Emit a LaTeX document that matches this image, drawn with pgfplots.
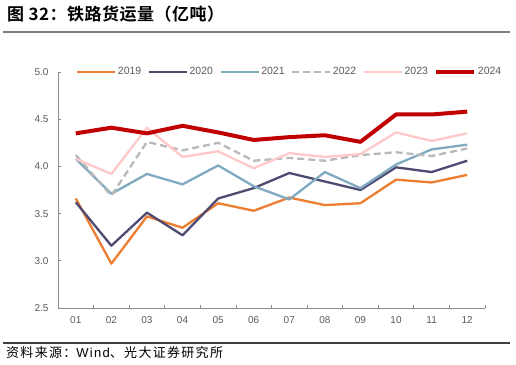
\documentclass[border=0pt]{standalone}
\usepackage{pgfplots}
\pgfplotsset{compat=1.18}
\usepackage{fontspec}
\setmainfont{Liberation Sans}
\newfontfamily\cjk{Noto Sans CJK SC}[BoldFont={Noto Sans CJK SC Bold}]
\newfontfamily\cjksrc{Noto Sans CJK SC}[LetterSpace=10]
\newfontfamily\latsrc{Liberation Sans}[LetterSpace=10]
\newfontfamily\cjktitle{Noto Sans CJK SC Bold}[LetterSpace=3]
\definecolor{c2019}{HTML}{ED7D31}
\definecolor{c2020}{HTML}{4E4B72}
\definecolor{c2021}{HTML}{7FAAC0}
\definecolor{c2022}{HTML}{B8B8B8}
\definecolor{c2023}{HTML}{FFC9C9}
\definecolor{c2024}{HTML}{C00000}
\definecolor{tickgray}{HTML}{595959}
\definecolor{axgray}{HTML}{8C8C8C}
\begin{document}
\begin{tikzpicture}
\useasboundingbox (0,0) rectangle (516pt,-364pt);
\node[anchor=base west, inner sep=0, font=\cjktitle\fontsize{17}{20}\selectfont] at (7pt,-20pt) {图 32：铁路货运量（亿吨）};
\draw[line width=2pt, color=axgray!90!black] (3pt,-32pt) -- (510pt,-32pt);
\draw[line width=1.2pt, color=black!75] (3pt,-343pt) -- (510pt,-343pt);
\node[anchor=base west, inner sep=0, font=\cjksrc\fontsize{13}{15}\selectfont] at (6pt,-357pt) {资料来源：{\latsrc Wind}、光大证券研究所};
\begin{axis}[
  at={(58pt,-308pt)}, anchor=south west,
  scale only axis, width=427pt, height=236pt,
  xmin=0.5, xmax=12.5, ymin=2.5, ymax=5.0,
  axis x line*=bottom, axis y line*=left,
  axis line style={color=axgray, line width=0.8pt},
  xtick={1,...,12},
  xticklabels={01,02,03,04,05,06,07,08,09,10,11,12},
  minor xtick={1.5,2.5,...,12.5},
  major x tick style={draw=none},
  minor tick length=3pt,
  major tick length=3pt,
  tick align=inside,
  tick style={color=axgray, line width=0.8pt},
  ytick={2.5,3.0,...,5.0},
  /pgf/number format/fixed,
  /pgf/number format/fixed zerofill,
  /pgf/number format/precision=1,
  /pgf/number format/assume math mode=true,
  yticklabel shift=6pt,
  xticklabel shift=5pt,
  ticklabel style={font=\fontsize{10}{12}\selectfont, text=tickgray},
  legend style={at={(0.035,1)}, anchor=west, draw=none, fill=none,
    font=\fontsize{10.5}{12}\selectfont, text=tickgray,
    nodes={inner sep=1.5pt},
    /tikz/every even column/.append style={column sep=5pt}},
  legend columns=-1,
  legend image code/.code={\draw[#1] (0pt,0pt) -- (38pt,0pt);},
  every axis plot/.append style={line join=round},
]
\addplot[color=c2019, line width=2.3pt] coordinates {(1,3.66) (2,2.97) (3,3.47) (4,3.35) (5,3.61) (6,3.53) (7,3.67) (8,3.59) (9,3.61) (10,3.86) (11,3.83) (12,3.91)};
\addlegendentry{2019}
\addplot[color=c2020, line width=2.3pt] coordinates {(1,3.62) (2,3.16) (3,3.51) (4,3.27) (5,3.66) (6,3.77) (7,3.93) (8,3.84) (9,3.75) (10,3.99) (11,3.94) (12,4.06)};
\addlegendentry{2020}
\addplot[color=c2021, line width=2.3pt] coordinates {(1,4.08) (2,3.71) (3,3.92) (4,3.81) (5,4.01) (6,3.79) (7,3.65) (8,3.94) (9,3.77) (10,4.02) (11,4.18) (12,4.23)};
\addlegendentry{2021}
\addplot[color=c2022, line width=2.3pt, dash pattern=on 7pt off 4pt] coordinates {(1,4.12) (2,3.69) (3,4.26) (4,4.17) (5,4.25) (6,4.06) (7,4.09) (8,4.06) (9,4.12) (10,4.15) (11,4.11) (12,4.19)};
\addlegendentry{2022}
\addplot[color=c2023, line width=2.3pt] coordinates {(1,4.08) (2,3.92) (3,4.41) (4,4.10) (5,4.16) (6,3.98) (7,4.14) (8,4.10) (9,4.13) (10,4.36) (11,4.27) (12,4.35)};
\addlegendentry{2023}
\addplot[color=c2024, line width=4pt] coordinates {(1,4.35) (2,4.41) (3,4.35) (4,4.43) (5,4.36) (6,4.28) (7,4.31) (8,4.33) (9,4.26) (10,4.55) (11,4.55) (12,4.58)};
\addlegendentry{2024}
\end{axis}
\end{tikzpicture}
\end{document}
